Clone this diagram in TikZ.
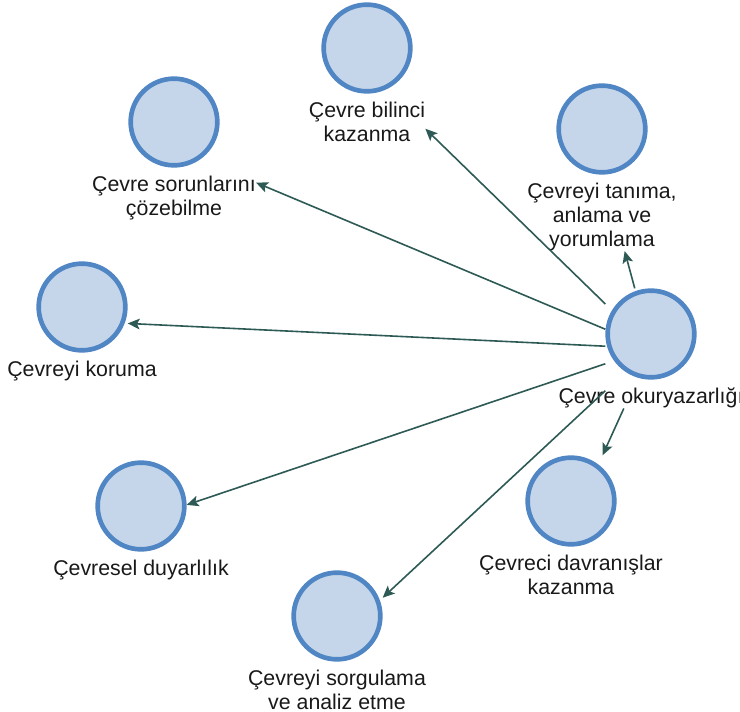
\documentclass[tikz,border=0pt]{standalone}
\usepackage{fontspec}
\setmainfont{Liberation Sans}
\usetikzlibrary{arrows.meta,positioning,fit}
\definecolor{rim}{RGB}{80,134,196}
\definecolor{disc}{RGB}{197,214,234}
\definecolor{link}{RGB}{45,90,85}
\tikzset{
  dot/.style={circle,draw=rim,fill=disc,line width=3.5pt,minimum size=65pt,inner sep=0pt},
  lbl/.style={font=\fontsize{16}{18}\selectfont,align=center,inner sep=0pt,text=black!90},
  grp/.style={inner sep=0pt,outer sep=0pt},
  arr/.style={-{Stealth[length=9pt,width=8pt,inset=2pt]},line width=1.2pt,link},
}

\begin{document}
\begin{tikzpicture}[x=0.75pt,y=-0.75pt]
  \useasboundingbox (0,0) rectangle (740,712);
  % centre
  \node[dot] (oku) at (651,334) {};
  \node[lbl,below=6pt of oku] (okut) {Çevre okuryazarlığı};
  \node[grp,fit=(oku)(okut.south)] (Oku) {};
  % goals
  \node[dot] (bil) at (367,48) {};
  \node[lbl,below=6pt of bil] (bilt) {Çevre bilinci\\kazanma};
  \node[grp,fit=(bil)(bilt)] (Bil) {};
  \node[dot] (tan) at (602,129) {};
  \node[lbl,below=6pt of tan] (tant) {Çevreyi tanıma,\\anlama ve\\yorumlama};
  \node[grp,fit=(tan)(tant.south)] (Tan) {};
  \node[dot] (sor) at (174,122) {};
  \node[lbl,below=6pt of sor] (sort) {Çevre sorunlarını\\çözebilme};
  \node[grp,fit=(sor)(sort)] (Sor) {};
  \node[dot] (kor) at (82,307) {};
  \node[lbl,below=6pt of kor] (kort) {Çevreyi koruma};
  \node[grp,fit=(kor)(kort.south)] (Kor) {};
  \node[dot] (duy) at (141,506) {};
  \node[lbl,below=6pt of duy] (duyt) {Çevresel duyarlılık};
  \node[grp,fit=(duy)(duyt.south)] (Duy) {};
  \node[dot] (sorg) at (337,616) {};
  \node[lbl,below=6pt of sorg] (sorgt) {Çevreyi sorgulama\\ve analiz etme};
  \node[grp,fit=(sorg)(sorgt.south)] (Sorg) {};
  \node[dot] (dav) at (571,501) {};
  \node[lbl,below=6pt of dav] (davt) {Çevreci davranışlar\\kazanma};
  \node[grp,fit=(dav)(davt.south)] (Dav) {};
  % links
  \draw[arr] (Oku) -- (Bil);
  \draw[arr] (Oku) -- (Tan);
  \draw[arr] (Oku) -- (Sor);
  \draw[arr] (Oku) -- (Kor);
  \draw[arr] (Oku) -- (Duy);
  \draw[arr] (Oku) -- (Sorg);
  \draw[arr] (Oku) -- (Dav);
\end{tikzpicture}
\end{document}
